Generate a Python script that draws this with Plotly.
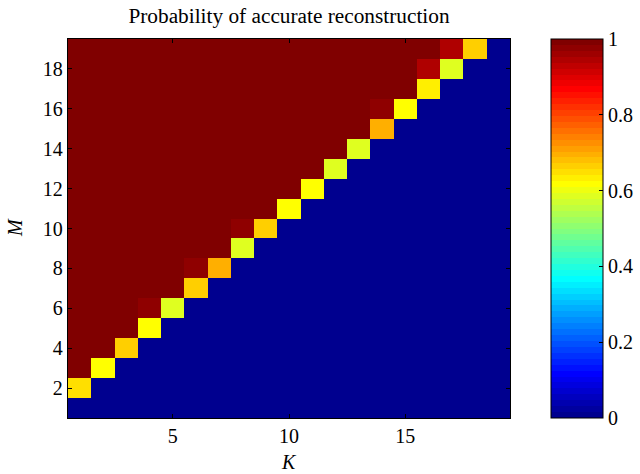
import plotly.graph_objects as go

K_values = list(range(1, 20))
M_values = list(range(1, 20))

# probability rows, M = 1 .. 19 (bottom to top), columns K = 1 .. 19
prob = [
    [0, 0, 0, 0, 0, 0, 0, 0, 0, 0, 0, 0, 0, 0, 0, 0, 0, 0, 0],
    [0.65, 0, 0, 0, 0, 0, 0, 0, 0, 0, 0, 0, 0, 0, 0, 0, 0, 0, 0],
    [1, 0.615, 0, 0, 0, 0, 0, 0, 0, 0, 0, 0, 0, 0, 0, 0, 0, 0, 0],
    [1, 1, 0.665, 0, 0, 0, 0, 0, 0, 0, 0, 0, 0, 0, 0, 0, 0, 0, 0],
    [1, 1, 1, 0.615, 0, 0, 0, 0, 0, 0, 0, 0, 0, 0, 0, 0, 0, 0, 0],
    [1, 1, 1, 0.975, 0.585, 0, 0, 0, 0, 0, 0, 0, 0, 0, 0, 0, 0, 0, 0],
    [1, 1, 1, 1, 1, 0.665, 0, 0, 0, 0, 0, 0, 0, 0, 0, 0, 0, 0, 0],
    [1, 1, 1, 1, 1, 0.975, 0.695, 0, 0, 0, 0, 0, 0, 0, 0, 0, 0, 0, 0],
    [1, 1, 1, 1, 1, 1, 1, 0.585, 0, 0, 0, 0, 0, 0, 0, 0, 0, 0, 0],
    [1, 1, 1, 1, 1, 1, 1, 0.975, 0.665, 0, 0, 0, 0, 0, 0, 0, 0, 0, 0],
    [1, 1, 1, 1, 1, 1, 1, 1, 1, 0.615, 0, 0, 0, 0, 0, 0, 0, 0, 0],
    [1, 1, 1, 1, 1, 1, 1, 1, 1, 1, 0.615, 0, 0, 0, 0, 0, 0, 0, 0],
    [1, 1, 1, 1, 1, 1, 1, 1, 1, 1, 1, 0.585, 0, 0, 0, 0, 0, 0, 0],
    [1, 1, 1, 1, 1, 1, 1, 1, 1, 1, 1, 1, 0.585, 0, 0, 0, 0, 0, 0],
    [1, 1, 1, 1, 1, 1, 1, 1, 1, 1, 1, 1, 1, 0.695, 0, 0, 0, 0, 0],
    [1, 1, 1, 1, 1, 1, 1, 1, 1, 1, 1, 1, 1, 0.975, 0.615, 0, 0, 0, 0],
    [1, 1, 1, 1, 1, 1, 1, 1, 1, 1, 1, 1, 1, 1, 1, 0.63, 0, 0, 0],
    [1, 1, 1, 1, 1, 1, 1, 1, 1, 1, 1, 1, 1, 1, 1, 0.945, 0.585, 0, 0],
    [1, 1, 1, 1, 1, 1, 1, 1, 1, 1, 1, 1, 1, 1, 1, 1, 0.945, 0.665, 0],
]

x_ticks = [5, 10, 15]
y_ticks = [2, 4, 6, 8, 10, 12, 14, 16, 18]
cb_ticks = [0, 0.2, 0.4, 0.6, 0.8, 1]
cb_ticktext = ["0", "0.2", "0.4", "0.6", "0.8", "1"]


def matlab_jet(n=64):
    m = -(-n // 4)
    u = [i / m for i in range(1, m + 1)] + [1.0] * (m - 1) + [i / m for i in range(m, 0, -1)]
    g0 = -(-m // 2) - (1 if n % 4 == 1 else 0)
    cols = [[0.0, 0.0, 0.0] for _ in range(n)]
    for p, val in enumerate(u, start=1):
        for ch, off in ((0, g0 + m), (1, g0), (2, g0 - m)):
            idx = off + p
            if 1 <= idx <= n:
                cols[idx - 1][ch] = val
    return ["rgb(%d,%d,%d)" % tuple(round(c * 255) for c in col) for col in cols]


jet = matlab_jet(64)
colorscale = []
for i, c in enumerate(jet):
    colorscale.append([i / 64, c])
    colorscale.append([(i + 1) / 64, c])

FONT = "Liberation Serif, Times New Roman, serif"

# plot area in pixels
PL, PR, PT, PB = 68, 510, 39, 418
PW, PH = PR - PL, PB - PT

fig = go.Figure(
    go.Heatmap(
        x=K_values,
        y=M_values,
        z=prob,
        zmin=0,
        zmax=1,
        colorscale=colorscale,
        colorbar=dict(
            x=(551 - PL) / PW,
            xanchor="left",
            y=0.5,
            yanchor="middle",
            len=1,
            lenmode="fraction",
            thickness=52,
            thicknessmode="pixels",
            xpad=0,
            ypad=0,
            outlinewidth=1,
            outlinecolor="black",
            ticks="inside",
            ticklen=4,
            tickwidth=1,
            tickcolor="black",
            tickvals=cb_ticks,
            ticktext=cb_ticktext,
            tickfont=dict(family=FONT, size=20, color="black"),
        ),
        hoverinfo="skip",
    )
)

axis_common = dict(
    showgrid=False,
    zeroline=False,
    showline=True,
    linecolor="black",
    linewidth=1.3,
    mirror="ticks",
    ticks="inside",
    ticklen=4,
    tickwidth=1,
    tickcolor="black",
    tickfont=dict(family=FONT, size=20, color="black"),
    automargin=False,
)

fig.update_layout(
    width=640,
    height=474,
    margin=dict(l=PL, r=640 - PR, t=PT, b=474 - PB, autoexpand=False),
    paper_bgcolor="white",
    plot_bgcolor="white",
    title=dict(
        text="Probability of accurate reconstruction",
        x=(PL + PR) / 2 / 640,
        xanchor="center",
        y=1 - 16 / 474,
        yanchor="middle",
        font=dict(family=FONT, size=21.3, color="black"),
    ),
    xaxis=dict(range=[0.5, 19.5], tickvals=x_ticks, **axis_common),
    yaxis=dict(range=[0.5, 19.5], tickvals=y_ticks, **axis_common),
    annotations=[
        dict(
            text="<i>K</i>",
            xref="paper", yref="paper",
            x=0.5, y=-(462 - PB) / PH,
            xanchor="center", yanchor="middle",
            showarrow=False,
            font=dict(family=FONT, size=20, color="black"),
        ),
        dict(
            text="<i>M</i>",
            xref="paper", yref="paper",
            x=-(PL - 15) / PW, y=(PB - 228) / PH,
            xanchor="center", yanchor="middle",
            textangle=-90,
            showarrow=False,
            font=dict(family=FONT, size=20, color="black"),
        ),
    ],
)

fig.write_html(
    "out.html",
    config={"displayModeBar": False, "staticPlot": True},
    post_script="document.body.style.margin='0';document.body.style.padding='0';document.body.style.overflow='hidden';",
)
